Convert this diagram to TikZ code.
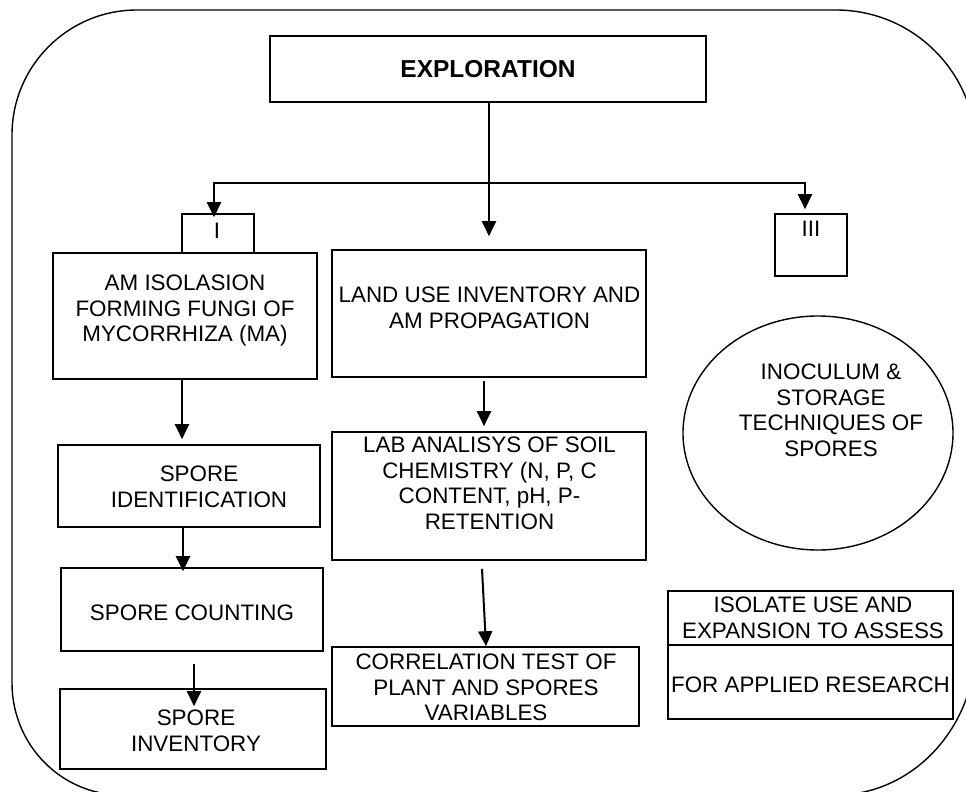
\documentclass[tikz,border=0pt]{standalone}
\usepackage{fontspec}
\setmainfont{Liberation Sans}
\usetikzlibrary{arrows.meta,shapes.geometric}
\begin{document}
\begin{tikzpicture}[x=1pt,y=1pt,
  box/.style={draw, line width=1.6pt, inner sep=0pt},
  lbl/.style={anchor=north, align=center, inner sep=0pt, font=\fontsize{22.4}{25.5}\selectfont},
  arr/.style={line width=2pt, -{Triangle[length=15pt,width=14pt]}},
  forkline/.style={line width=2.4pt, {Triangle[length=15pt,width=14pt]}-{Triangle[length=15pt,width=14pt]}},
  outer/.style={line width=1.4pt}]
\useasboundingbox (0,0) rectangle (966,-792);
\begin{scope}
\clip (0,0) rectangle (966,-792);
\draw[outer] (12,-135) arc[start angle=180, end angle=90, radius=125]
  -- (836,-10) arc[start angle=90, end angle=0, radius=140]
  -- (976,-643) arc[start angle=0, end angle=-90, x radius=140, y radius=152]
  -- (122,-795) arc[start angle=270, end angle=180, x radius=110, y radius=112]
  -- cycle;
\end{scope}

% boxes
\node[box, minimum width=436, minimum height=66] (explo) at (488,-69) {};
\node[box, minimum width=72, minimum height=39] (boxI) at (218,-233.5) {};
\node[box, minimum width=72, minimum height=62] (boxIII) at (811,-245) {};
\node[box, minimum width=264, minimum height=126] (am) at (185,-316) {};
\node[box, minimum width=314, minimum height=127] (land) at (489,-313.5) {};
\node[box, minimum width=262, minimum height=82] (spid) at (189,-486) {};
\node[box, minimum width=262, minimum height=83] (count) at (192,-609.5) {};
\node[box, minimum width=266, minimum height=80] (inv) at (193,-729) {};
\node[box, minimum width=314, minimum height=128] (lab) at (489,-496) {};
\node[box, minimum width=307, minimum height=79] (corr) at (485.5,-686.5) {};
\node[box, ellipse, line width=1.4pt, minimum width=270, minimum height=234] (inoc) at (818,-433) {};
\node[box, minimum width=285, minimum height=54] (isoA) at (810.5,-618) {};
\node[box, minimum width=285, minimum height=74] (isoB) at (810.5,-682) {};

% texts
\node[lbl, font=\fontsize{24.5}{28}\selectfont\bfseries] (explo-t) at (488,-60) {EXPLORATION};
\node[lbl] (boxI-t) at (217,-223) {I};
\node[lbl] (boxIII-t) at (811,-221) {III};
\node[lbl] (am-t) at (185,-275) {AM ISOLASION\\FORMING FUNGI OF\\MYCORRHIZA (MA)};
\node[lbl] (land-t) at (489.5,-287) {LAND USE INVENTORY AND\\AM PROPAGATION};
\node[lbl] (spid-t) at (199,-466) {SPORE\\IDENTIFICATION};
\node[lbl] (count-t) at (192,-605) {SPORE COUNTING};
\node[lbl] (inv-t) at (196,-710) {SPORE\\INVENTORY};
\node[lbl] (lab-t) at (489.5,-437) {LAB ANALISYS OF SOIL\\CHEMISTRY (N, P, C\\CONTENT, pH, P-\\RETENTION};
\node[lbl] (corr-t) at (486,-654) {CORRELATION TEST OF\\PLANT AND SPORES\\VARIABLES};
\node[lbl] (inoc-t) at (831,-364) {INOCULUM \&\\STORAGE\\TECHNIQUES OF\\SPORES};
\node[lbl] (isoA-t) at (813,-597) {ISOLATE USE AND\\EXPANSION TO ASSESS};
\node[lbl] (isoB-t) at (810.5,-677) {FOR APPLIED RESEARCH};

% connectors
\coordinate (barL) at (214,-183);
\coordinate (barR) at (805,-183);
\draw[arr] ([xshift=1pt]explo.south) -- ([yshift=13pt]land.north);
\draw[forkline] ([xshift=-4pt,yshift=-4pt]boxI.north) -- (barL) -- (barR) -- ([xshift=-6pt,yshift=4pt]boxIII.north);
\draw[arr] ([xshift=-3pt]am.south) -- ([xshift=-7pt,yshift=5pt]spid.north);
\draw[arr] ([xshift=-6pt]spid.south) -- ([xshift=-9pt,yshift=-4pt]count.north);
\draw[arr] ([xshift=2pt,yshift=-12pt]count.south) -- ([xshift=1pt,yshift=-18pt]inv.north);
\draw[arr] ([xshift=-5pt,yshift=-3pt]land.south) -- ([xshift=-5pt,yshift=5pt]lab.north);
\draw[arr] ([xshift=-7pt,yshift=-8pt]lab.south) -- ([xshift=0.5pt]corr.north);
\end{tikzpicture}
\end{document}
